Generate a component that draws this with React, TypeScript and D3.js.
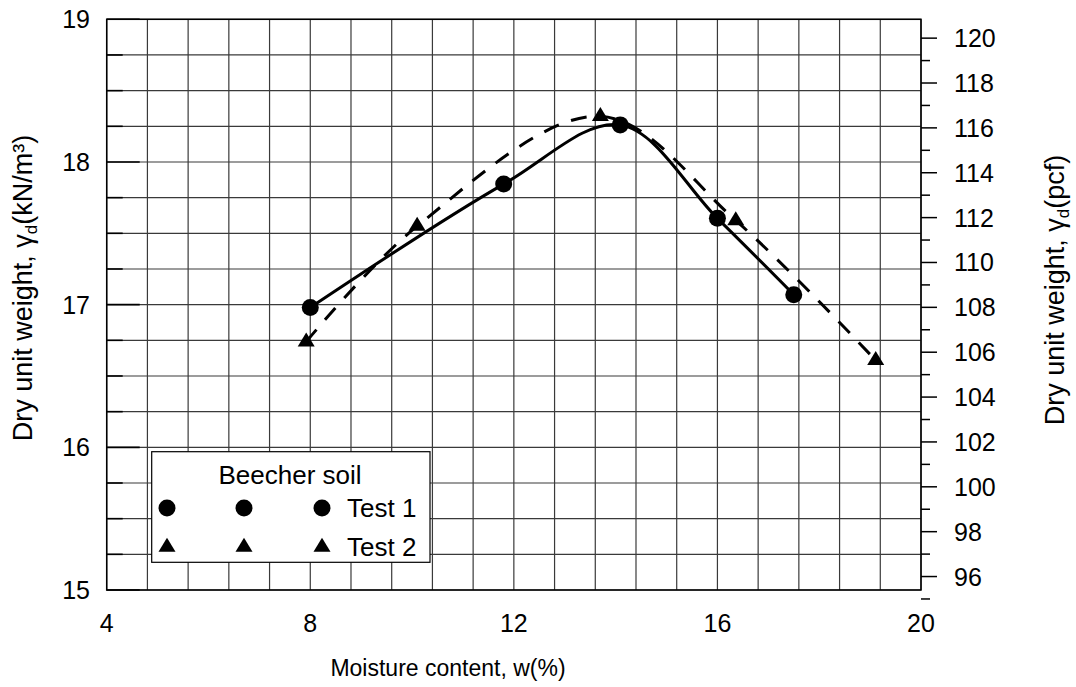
import React from "react";
import * as d3 from "d3";

// Data
const test1W = [8.0, 11.8, 14.09, 16.0, 17.5];
const test1G = [16.98, 17.845, 18.26, 17.605, 17.07];
const test2W = [7.92, 10.1, 13.7, 16.36, 19.11];
const test2G = [16.74, 17.55, 18.32, 17.59, 16.61];

const xTicks = [4, 8, 12, 16, 20];
const yTicks = [15, 16, 17, 18, 19];
const pcfMajor = [96, 98, 100, 102, 104, 106, 108, 110, 112, 114, 116, 118, 120];
const pcfMinor = [95, 97, 99, 101, 103, 105, 107, 109, 111, 113, 115, 117, 119];
const KN_TO_PCF = 6.36;

const W = 1076;
const H = 687;
const L = 106.7, R = 921, T = 19.3, B = 590;
const FONT = "Liberation Sans, Arial, sans-serif";

export default function App() {
  const x = d3.scaleLinear().domain([4, 20]).range([L, R]);
  const y = d3.scaleLinear().domain([15, 19]).range([B, T]);
  const yP = (p: number) => y(p / KN_TO_PCF);

  const vGrid = d3.range(0, 21).map((i) => 4 + i * 0.8);
  const hGrid = d3.range(0, 17).map((i) => 15 + i * 0.25);

  const t1 = test1W.map((w, i) => [w, test1G[i]] as [number, number]);
  const t2 = test2W.map((w, i) => [w, test2G[i]] as [number, number]);
  const line = d3
    .line<[number, number]>()
    .x((d) => x(d[0]))
    .y((d) => y(d[1]))
    .curve(d3.curveCatmullRom.alpha(0.5));

  const tri = (cx: number, cy: number, w: number, h: number) =>
    `M${cx - w / 2},${cy + h / 3}L${cx + w / 2},${cy + h / 3}L${cx},${cy - (2 * h) / 3}Z`;

  const fsTick = 25;
  const fsLeg = 26;
  const fsX = 23;
  const fsY = 27;
  return (
    <svg width={W} height={H} style={{ position: "absolute", left: 0, top: 0, background: "#fff" }} fontFamily={FONT}>
      <rect x={0} y={0} width={W} height={H} fill="#fff" />
      {/* grid */}
      {vGrid.map((v, i) => (
        <line key={"v" + i} x1={x(v)} x2={x(v)} y1={T} y2={B} stroke="#3a3a3a" strokeWidth={1.2} />
      ))}
      {hGrid.map((v, i) => (
        <line key={"h" + i} x1={L} x2={R} y1={y(v)} y2={y(v)} stroke="#3a3a3a" strokeWidth={1.2} />
      ))}
      {/* frame */}
      <rect x={L} y={T} width={R - L} height={B - T} fill="none" stroke="#000" strokeWidth={1.5} />
      {/* left inward ticks */}
      {hGrid.map((v, i) => (
        <line key={"lt" + i} x1={L} x2={L + (Math.abs(v - Math.round(v)) < 1e-6 ? 33 : 16)} y1={y(v)} y2={y(v)} stroke="#000" strokeWidth={1.6} />
      ))}
      {/* left labels */}
      {yTicks.map((v) => (
        <text key={"yl" + v} x={90} y={y(v)} dy="0.36em" textAnchor="end" fontSize={fsTick}>
          {v}
        </text>
      ))}
      {/* right pcf axis */}
      {pcfMajor.map((p) => (
        <g key={"pm" + p}>
          <line x1={R} x2={R + 16} y1={yP(p)} y2={yP(p)} stroke="#000" strokeWidth={1.5} />
          <text x={954} y={yP(p)} dy="0.36em" fontSize={fsTick}>
            {p}
          </text>
        </g>
      ))}
      {pcfMinor.map((p) => (
        <line key={"pn" + p} x1={R} x2={R + 9} y1={yP(p)} y2={yP(p)} stroke="#000" strokeWidth={1.5} />
      ))}
      {/* x labels */}
      {xTicks.map((v) => (
        <text key={"xl" + v} x={x(v)} y={632} textAnchor="middle" fontSize={fsTick}>
          {v}
        </text>
      ))}
      {/* axis titles */}
      <text x={448} y={676} textAnchor="middle" fontSize={fsX}>
        Moisture content, w(%)
      </text>
      <text transform={`translate(32,288) rotate(-90)`} textAnchor="middle" fontSize={fsY}>
        Dry unit weight, γ<tspan fontSize={17} dy={5}>d</tspan>
        <tspan dy={-5}>(kN/m³)</tspan>
      </text>
      <text transform={`translate(1064,290) rotate(-90)`} textAnchor="middle" fontSize={fsY}>
        Dry unit weight, γ<tspan fontSize={17} dy={5}>d</tspan>
        <tspan dy={-5}>(pcf)</tspan>
      </text>
      {/* curves */}
      <path d={line(t1) || ""} fill="none" stroke="#000" strokeWidth={3} />
      <path d={line(t2) || ""} fill="none" stroke="#000" strokeWidth={3} strokeDasharray="16 13" />
      {/* markers */}
      {t1.map((d, i) => (
        <circle key={"c" + i} cx={x(d[0])} cy={y(d[1])} r={8.5} fill="#000" />
      ))}
      {t2.map((d, i) => (
        <path key={"t" + i} d={tri(x(d[0]), y(d[1]), 17, 14)} fill="#000" />
      ))}
      {/* legend */}
      <rect x={151.7} y={451.7} width={278.3} height={110.6} fill="#fff" stroke="#000" strokeWidth={1.2} />
      <text x={290} y={484} textAnchor="middle" fontSize={fsLeg}>
        Beecher soil
      </text>
      {[167, 244, 322].map((cx) => (
        <g key={"lg" + cx}>
          <circle cx={cx} cy={508} r={8.5} fill="#000" />
          <path d={tri(cx, 547, 17, 14)} fill="#000" />
        </g>
      ))}
      <text x={347} y={517} fontSize={fsLeg}>
        Test 1
      </text>
      <text x={347} y={556} fontSize={fsLeg}>
        Test 2
      </text>
    </svg>
  );
}
